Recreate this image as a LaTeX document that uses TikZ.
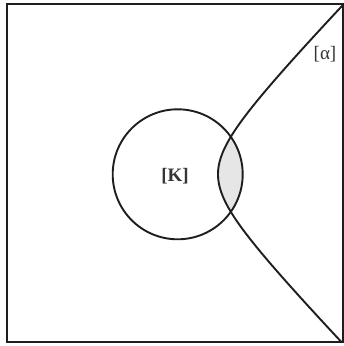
\documentclass[tikz,border=0pt]{standalone}
\usepackage{fontspec}
\setmainfont{Liberation Serif}
\definecolor{lens}{HTML}{E6E6E6}
\definecolor{ink}{HTML}{1E1E1E}
\begin{document}
\begin{tikzpicture}[x=1pt,y=1pt,
  frameline/.style={draw=ink,line width=1.6pt},
  curveline/.style={draw=ink,line width=1.9pt},
  lbl/.style={inner sep=0pt,text=ink!90,font=\fontsize{19}{22}\selectfont}]
\useasboundingbox (0,0) rectangle (344,346);
% hyperbola parameters: vertex x=218, centre y=171.7
\def\hyp{plot[domain=-2.3:2.3,samples=80,smooth,variable=\t]({173+45*cosh(\t)},{171.7+46.5*sinh(\t)})}
\coordinate (FrameSW) at (7,4);
\coordinate (FrameNE) at (343,342);
\coordinate (Kc) at (177.7,171.7);
% shaded lens
\begin{scope}
  \clip (Kc) circle (65);
  \fill[lens] \hyp -- (400,500) -- (400,-200) -- cycle;
\end{scope}
% circle
\draw[curveline] (Kc) circle (65);
% hyperbola branch
\begin{scope}
  \clip (FrameSW) rectangle (FrameNE);
  \draw[curveline] \hyp;
\end{scope}
% frame
\draw[frameline] (FrameSW) rectangle (FrameNE);
% labels
\node[lbl] (K) at (175,170) {\textbf{[K]}};
\node[lbl] (alpha) at (325,292) {[α]};
\end{tikzpicture}
\end{document}
